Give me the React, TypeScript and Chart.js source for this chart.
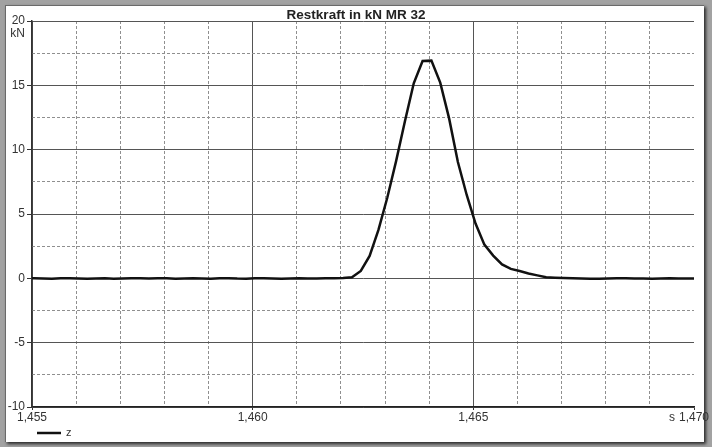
import React, { useEffect, useRef } from 'react';
import { Chart, registerables } from 'chart.js';

Chart.register(...registerables);

const TITLE = 'Restkraft in kN MR 32';
const SERIES_LABEL = 'z';
const Y_UNIT = 'kN';
const X_UNIT = 's';

const X_MIN = 1.455;
const X_MAX = 1.47;
const Y_MIN = -10;
const Y_MAX = 20;

const times = [
  1.455,
  1.45505, 1.45525, 1.45545, 1.45565, 1.45585,
  1.45605, 1.45625, 1.45645, 1.45665, 1.45685,
  1.45705, 1.45725, 1.45745, 1.45765, 1.45785,
  1.45805, 1.45825, 1.45845, 1.45865, 1.45885,
  1.45905, 1.45925, 1.45945, 1.45965, 1.45985,
  1.46005, 1.46025, 1.46045, 1.46065, 1.46085,
  1.46105, 1.46125, 1.46145, 1.46165, 1.46185,
  1.46205, 1.46225, 1.46245, 1.46265, 1.46285,
  1.46305, 1.46325, 1.46345, 1.46365, 1.46385,
  1.46405, 1.46425, 1.46445, 1.46465, 1.46485,
  1.46505, 1.46525, 1.46545, 1.46565, 1.46585,
  1.46605, 1.46625, 1.46645, 1.46665, 1.46685,
  1.46705, 1.46725, 1.46745, 1.46765, 1.46785,
  1.46805, 1.46825, 1.46845, 1.46865, 1.46885,
  1.46905, 1.46925, 1.46945, 1.46965, 1.46985,
  1.47,
];

const force = [
  0.0,
  0.0, -0.02, -0.03, 0.0, 0.01,
  -0.02, -0.04, -0.02, 0.0, -0.03,
  -0.02, 0.0, 0.0, -0.01, 0.0,
  0.0, -0.03, -0.02, 0.0, -0.02,
  -0.03, 0.0, 0.01, -0.02, -0.03,
  0.0, 0.0, -0.02, -0.03, -0.01,
  0.0, -0.02, -0.01, 0.0, 0.0,
  0.03, 0.08, 0.57, 1.74, 3.76,
  6.26, 9.11, 12.21, 15.16, 16.89,
  16.92, 15.21, 12.45, 9.04, 6.48,
  4.26, 2.62, 1.77, 1.08, 0.73,
  0.57, 0.38, 0.23, 0.09, 0.05,
  0.02, 0.0, -0.02, -0.03, -0.03,
  -0.01, 0.01, 0.0, -0.02, -0.01,
  -0.03, -0.02, 0.0, -0.01, -0.02,
  -0.02,
];

const xMajorTicks = [1.455, 1.46, 1.465, 1.47];
const xMajorLabels = ['1,455', '1,460', '1,465', '1,470'];
const xMinorTicks = [1.456, 1.457, 1.458, 1.459, 1.461, 1.462, 1.463, 1.464, 1.466, 1.467, 1.468, 1.469];
const yMajorTicks = [-10, -5, 0, 5, 10, 15, 20];
const yMinorTicks = [-7.5, -2.5, 2.5, 7.5, 12.5, 17.5];

const FONT = 'Liberation Sans, Arial, Helvetica, sans-serif';
const TEXT_COLOR = '#333';
const MAJOR_GRID = '#555';
const MINOR_GRID = '#8f8f8f';
const LINE_COLOR = '#111';
const TICK_FONT_SIZE = 12;

const overlayPlugin = {
  id: 'overlayText',
  afterDraw(chart: any) {
    const ctx = chart.ctx;
    const area = chart.chartArea;
    ctx.save();
    // title
    ctx.font = `bold 13.5px ${FONT}`;
    ctx.fillStyle = '#222';
    ctx.textAlign = 'center';
    ctx.textBaseline = 'middle';
    ctx.fillText(TITLE, chart.width / 2, 15);

    ctx.font = `${TICK_FONT_SIZE}px ${FONT}`;
    ctx.fillStyle = TEXT_COLOR;
    // y unit below the top label
    ctx.textAlign = 'right';
    ctx.textBaseline = 'middle';
    ctx.fillText(Y_UNIT, area.left - 7, area.top + 13);
    // x unit before last label
    const lastLabel = xMajorLabels[xMajorLabels.length - 1];
    const w = ctx.measureText(lastLabel).width;
    const xs = chart.scales.x;
    const lastPx = xs.getPixelForValue(xMajorTicks[xMajorTicks.length - 1]);
    ctx.fillText(X_UNIT, lastPx - w / 2 - 4, area.bottom + 10.5);
    // legend
    const ds = chart.data.datasets[0];
    const ly = 433;
    ctx.strokeStyle = ds.borderColor;
    ctx.lineWidth = 2.5;
    ctx.beginPath();
    ctx.moveTo(37, ly);
    ctx.lineTo(61, ly);
    ctx.stroke();
    ctx.font = `11px ${FONT}`;
    ctx.textAlign = 'left';
    ctx.fillText(ds.label, 66, ly);
    ctx.restore();
  },
};

export default function App() {
  const canvasRef = useRef<HTMLCanvasElement | null>(null);

  useEffect(() => {
    const canvas = canvasRef.current;
    if (!canvas) return;
    const chart = new Chart(canvas, {
      type: 'line',
      data: {
        datasets: [
          {
            label: SERIES_LABEL,
            data: times.map((t, i) => ({ x: t, y: force[i] })),
            borderColor: LINE_COLOR,
            borderWidth: 2.5,
            pointRadius: 0,
            tension: 0,
            fill: false,
          },
        ],
      },
      options: {
        responsive: false,
        animation: false,
        devicePixelRatio: 1,
        layout: { padding: { left: 0, right: 18, top: 21, bottom: 20 } },
        plugins: {
          legend: { display: false },
          tooltip: { enabled: false },
          title: { display: false },
        },
        scales: {
          xMinor: {
            type: 'linear',
            position: 'bottom',
            min: X_MIN,
            max: X_MAX,
            afterBuildTicks: (s: any) => {
              s.ticks = xMinorTicks.map((v) => ({ value: v }));
            },
            ticks: { display: false },
            grid: { color: MINOR_GRID, lineWidth: 1, drawTicks: false },
            border: { display: false, dash: [3, 2] },
            afterFit: (s: any) => {
              s.height = 0;
            },
          },
          x: {
            type: 'linear',
            position: 'bottom',
            min: X_MIN,
            max: X_MAX,
            afterBuildTicks: (s: any) => {
              s.ticks = xMajorTicks.map((v) => ({ value: v }));
            },
            ticks: {
              autoSkip: false,
              maxRotation: 0,
              padding: 0,
              color: TEXT_COLOR,
              font: { family: FONT, size: TICK_FONT_SIZE },
              callback: (_v: any, i: number) => xMajorLabels[i],
            },
            grid: {
              color: (c: any) => (c.tick && c.tick.value === X_MAX ? 'rgba(0,0,0,0)' : MAJOR_GRID),
              lineWidth: 1,
              drawTicks: true,
              tickLength: 3,
              tickColor: '#333',
            },
            border: { display: true, color: '#222', width: 1.5 },
            afterFit: (s: any) => {
              s.height = 20;
            },
          },
          yMinor: {
            type: 'linear',
            position: 'left',
            min: Y_MIN,
            max: Y_MAX,
            afterBuildTicks: (s: any) => {
              s.ticks = yMinorTicks.map((v) => ({ value: v }));
            },
            ticks: { display: false },
            grid: { color: MINOR_GRID, lineWidth: 1, drawTicks: false },
            border: { display: false, dash: [3, 2] },
            afterFit: (s: any) => {
              s.width = 0;
            },
          },
          y: {
            type: 'linear',
            position: 'left',
            min: Y_MIN,
            max: Y_MAX,
            afterBuildTicks: (s: any) => {
              s.ticks = yMajorTicks.map((v) => ({ value: v }));
            },
            ticks: {
              autoSkip: false,
              padding: 2,
              color: TEXT_COLOR,
              font: { family: FONT, size: TICK_FONT_SIZE },
              callback: (v: any) => String(v),
            },
            grid: {
              color: MAJOR_GRID,
              lineWidth: 1,
              drawTicks: true,
              tickLength: 5,
              tickColor: '#333',
            },
            border: { display: true, color: '#333', width: 1.5 },
            afterFit: (s: any) => {
              s.width = 32;
            },
          },
        },
      },
      plugins: [overlayPlugin],
    } as any);
    return () => chart.destroy();
  }, []);

  return (
    <div
      style={{
        position: 'fixed',
        left: 0,
        top: 0,
        width: 712,
        height: 447,
        background: '#a2a2a2',
        overflow: 'hidden',
      }}
    >
      <div
        style={{
          position: 'absolute',
          left: 5,
          top: 5,
          width: 698,
          height: 436,
          background: '#fff',
          borderLeft: '1px solid #6a6a6a',
          borderTop: '1px solid #6a6a6a',
          boxShadow: '2px 2px 3px rgba(0,0,0,0.75)',
        }}
      />
      <canvas
        ref={canvasRef}
        width={712}
        height={447}
        style={{ position: 'absolute', left: 0, top: 0, width: 712, height: 447 }}
      />
    </div>
  );
}
